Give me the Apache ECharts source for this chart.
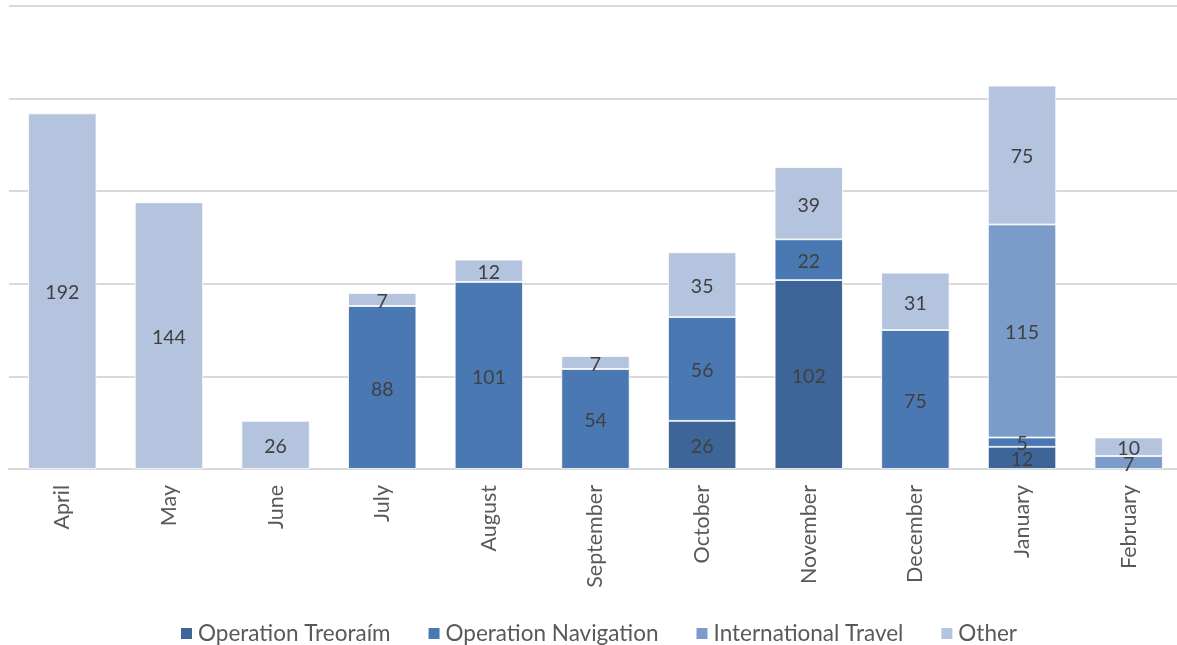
<!DOCTYPE html>
<html>
<head>
<meta charset="utf-8">
<script src="https://cdn.jsdelivr.net/npm/echarts@6/dist/echarts.min.js"></script>
<style>html,body{margin:0;padding:0;background:#fff;overflow:hidden;width:1177px;height:645px}#c{width:1182px;height:645px}</style>
</head>
<body>
<div id="c"></div>
<script>
const categories = ['April','May','June','July','August','September','October','November','December','January','February'];
const treoraim = [null,null,null,null,null,null,26,102,null,12,null];
const navigation = [null,null,null,88,101,54,56,22,75,5,null];
const international = [null,null,null,null,null,null,null,null,null,115,7];
const other = [192,144,26,7,12,7,35,39,31,75,10];
const yTicks = [0,50,100,150,200,250];

const FONT = 'Lato, "Liberation Sans", sans-serif';
function mk(name, data, color){
  return {
    name, type:'bar', stack:'total', data, barCategoryGap:'36%',
    itemStyle:{color, borderColor:'#ffffff', borderWidth:0.8},
    label:{show:true, position:'inside', color:'#404040', fontSize:19.5, fontFamily:FONT, offset:[0,2]},
    emphasis:{disabled:true}
  };
}
const chart = echarts.init(document.getElementById('c'));
chart.setOption({
  animation:false,
  grid:{left:9,right:0,top:6,bottom:176,containLabel:false},
  legend:{
    top:617, left:174, itemWidth:13, itemHeight:13, itemGap:36, icon:'rect',
    textStyle:{color:'#595959', fontSize:22.5, fontFamily:FONT},
    data:['Operation Treoraím','Operation Navigation','International Travel','Other']
  },
  xAxis:{
    type:'category', data:categories,
    axisLine:{lineStyle:{color:'#d9d9d9', width:2}},
    axisTick:{show:false},
    axisLabel:{rotate:90, color:'#595959', fontSize:21.5, fontFamily:FONT, margin:16}
  },
  yAxis:{
    type:'value', min:yTicks[0], max:yTicks[yTicks.length-1], interval:50,
    axisLabel:{show:false}, axisLine:{show:false}, axisTick:{show:false},
    splitLine:{lineStyle:{color:'#d9d9d9', width:2}}
  },
  series:[
    mk('Operation Treoraím', treoraim, '#3d6598'),
    mk('Operation Navigation', navigation, '#4a78b2'),
    mk('International Travel', international, '#7b9bc9'),
    mk('Other', other, '#b4c3de')
  ]
});
</script>
</body>
</html>
